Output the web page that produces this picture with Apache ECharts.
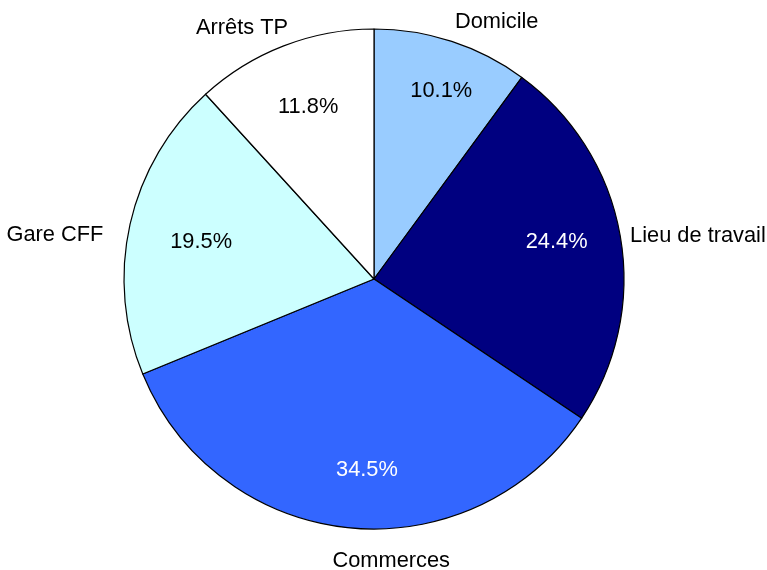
<!DOCTYPE html>
<html>
<head>
<meta charset="utf-8">
<script src="https://cdn.jsdelivr.net/npm/echarts@6/dist/echarts.min.js"></script>
<style>
  html, body { margin: 0; padding: 0; background: #fff; }
  #chart { width: 767px; height: 570px; }
</style>
</head>
<body>
<div id="chart"></div>
<script>
// slices, clockwise from 12 o'clock
const categories = ['Domicile', 'Lieu de travail', 'Commerces', 'Gare CFF', 'Arrêts TP'];
const shares = [10.1, 24.4, 34.5, 19.5, 11.8];

const sliceColors = ['#99CCFF', '#000080', '#3366FF', '#CCFFFF', '#FFFFFF'];
const pctColors = ['#000', '#fff', '#fff', '#000', '#000'];
// small nudges so the labels sit where the original puts them
const nameNudge = [[0, -10], [0, 2], [102, 23], [-17, 13], [8, -9]];
const pctNudge = [[8, -7], [-5, -4], [12, 1], [13, 5], [3, 6]];

const font = 'Liberation Sans, Arial, sans-serif';
const center = [374, 279];
const R = 250;

const chart = echarts.init(document.getElementById('chart'));

chart.setOption({
  animation: false,
  backgroundColor: '#fff',
  series: [
    {
      // the pie itself
      type: 'pie',
      center: center,
      radius: [0, R],
      startAngle: 90,
      clockwise: true,
      silent: true,
      avoidLabelOverlap: false,
      itemStyle: { borderColor: '#000', borderWidth: 1.2 },
      label: { show: false },
      labelLine: { show: false },
      data: categories.map((c, i) => ({
        name: c, value: shares[i], itemStyle: { color: sliceColors[i] }
      }))
    },
    {
      // percentage labels, placed at ~3/4 of the radius
      type: 'pie',
      center: center,
      radius: [125, R],
      startAngle: 90,
      clockwise: true,
      silent: true,
      avoidLabelOverlap: false,
      itemStyle: { color: 'transparent' },
      label: {
        show: true,
        position: 'inside',
        fontFamily: font,
        fontSize: 21.8,
        formatter: p => p.value.toFixed(1) + '%'
      },
      labelLine: { show: false },
      labelLayout: p => ({ dx: pctNudge[p.dataIndex][0], dy: pctNudge[p.dataIndex][1] }),
      data: categories.map((c, i) => ({
        name: c, value: shares[i], label: { color: pctColors[i] }
      }))
    },
    {
      // category names outside the pie
      type: 'pie',
      center: center,
      radius: [0, R],
      startAngle: 90,
      clockwise: true,
      silent: true,
      avoidLabelOverlap: false,
      itemStyle: { color: 'transparent' },
      label: {
        show: true,
        position: 'outside',
        fontFamily: font,
        fontSize: 21.8,
        color: '#000',
        distanceToLabelLine: 0,
        formatter: '{b}'
      },
      labelLine: { show: false, length: 10, length2: 0 },
      labelLayout: p => ({ dx: nameNudge[p.dataIndex][0], dy: nameNudge[p.dataIndex][1] }),
      data: categories.map((c, i) => ({ name: c, value: shares[i] }))
    }
  ]
});
</script>
</body>
</html>
